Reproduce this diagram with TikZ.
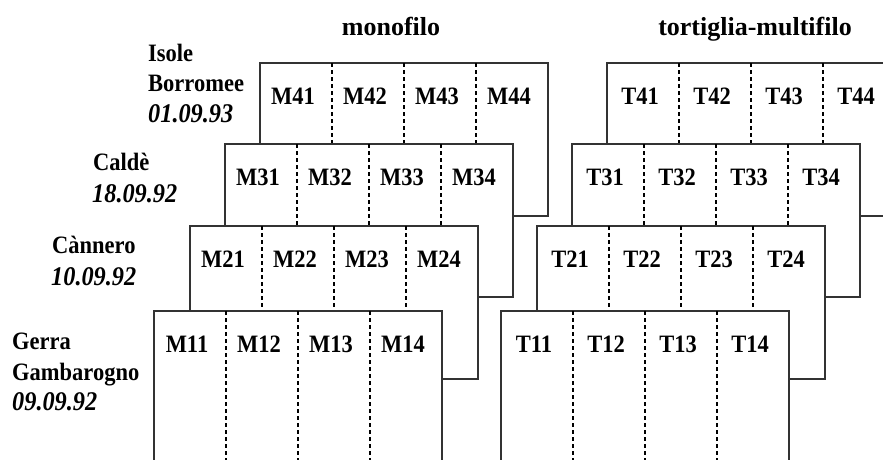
\documentclass[tikz,border=0pt]{standalone}
\usepackage{fontspec}
\setmainfont{Liberation Serif}
\newfontfamily\narrowserif[FakeStretch=0.9]{Liberation Serif}
\tikzset{
  panel/.style={draw=black!80, line width=1.5pt, fill=white},
  divider/.style={draw=black, line width=1.5pt, dash pattern=on 4pt off 3pt},
  cell/.style={font=\narrowserif\fontsize{25}{30}\selectfont\bfseries, inner sep=0pt, anchor=base},
  heading/.style={font=\fontsize{26}{30}\selectfont\bfseries, inner sep=0pt, anchor=base},
  place/.style={font=\narrowserif\fontsize{25}{30}\selectfont\bfseries, inner sep=0pt, anchor=base west},
  datum/.style={font=\narrowserif\fontsize{27}{30}\selectfont\bfseries\itshape, inner sep=0pt, anchor=base west},
}
\begin{document}
\begin{tikzpicture}[x=1pt,y=-1pt]
  \clip (0,0) rectangle (883,459);
  \fill[white] (0,0) rectangle (883,459);

  % column headings
  \node[heading] (hmono) at (391,35) {monofilo};
  \node[heading] (htort) at (755,35) {tortiglia-multifilo};

  % stacked sample panels, drawn from the back row to the front row
  \foreach \row/\mx/\tx/\py in {4/260/607/63, 3/225/572/144, 2/190/537/226, 1/154/501/311} {
    % monofilament panel
    \draw[panel] (\mx,\py) rectangle ++(288,153);
    \foreach \c in {1,2,3}
      \draw[divider] (\mx+72*\c,\py) -- ++(0,153);
    \foreach \c in {1,...,4}
      \node[cell] (M\row\c) at (\mx+72*\c-39,\py+41) {M\row\c};
    % twisted multifilament panel
    \draw[panel] (\tx,\py) rectangle ++(288,153);
    \foreach \c in {1,2,3}
      \draw[divider] (\tx+72*\c,\py) -- ++(0,153);
    \foreach \c in {1,...,4}
      \node[cell] (T\row\c) at (\tx+72*\c-39,\py+41) {T\row\c};
  }

  % sampling sites and dates
  \node[place] (isole) at (148,61) {Isole};
  \node[place] (borromee) at (148,91) {Borromee};
  \node[datum] (d4) at (148,122) {01.09.93};

  \node[place] (calde) at (93,170) {Caldè};
  \node[datum] (d3) at (92,202) {18.09.92};

  \node[place] (cannero) at (52,253) {Cànnero};
  \node[datum] (d2) at (51,285) {10.09.92};

  \node[place] (gerra) at (12,349) {Gerra};
  \node[place] (gamba) at (12,380) {Gambarogno};
  \node[datum] (d1) at (12,410) {09.09.92};
\end{tikzpicture}
\end{document}
